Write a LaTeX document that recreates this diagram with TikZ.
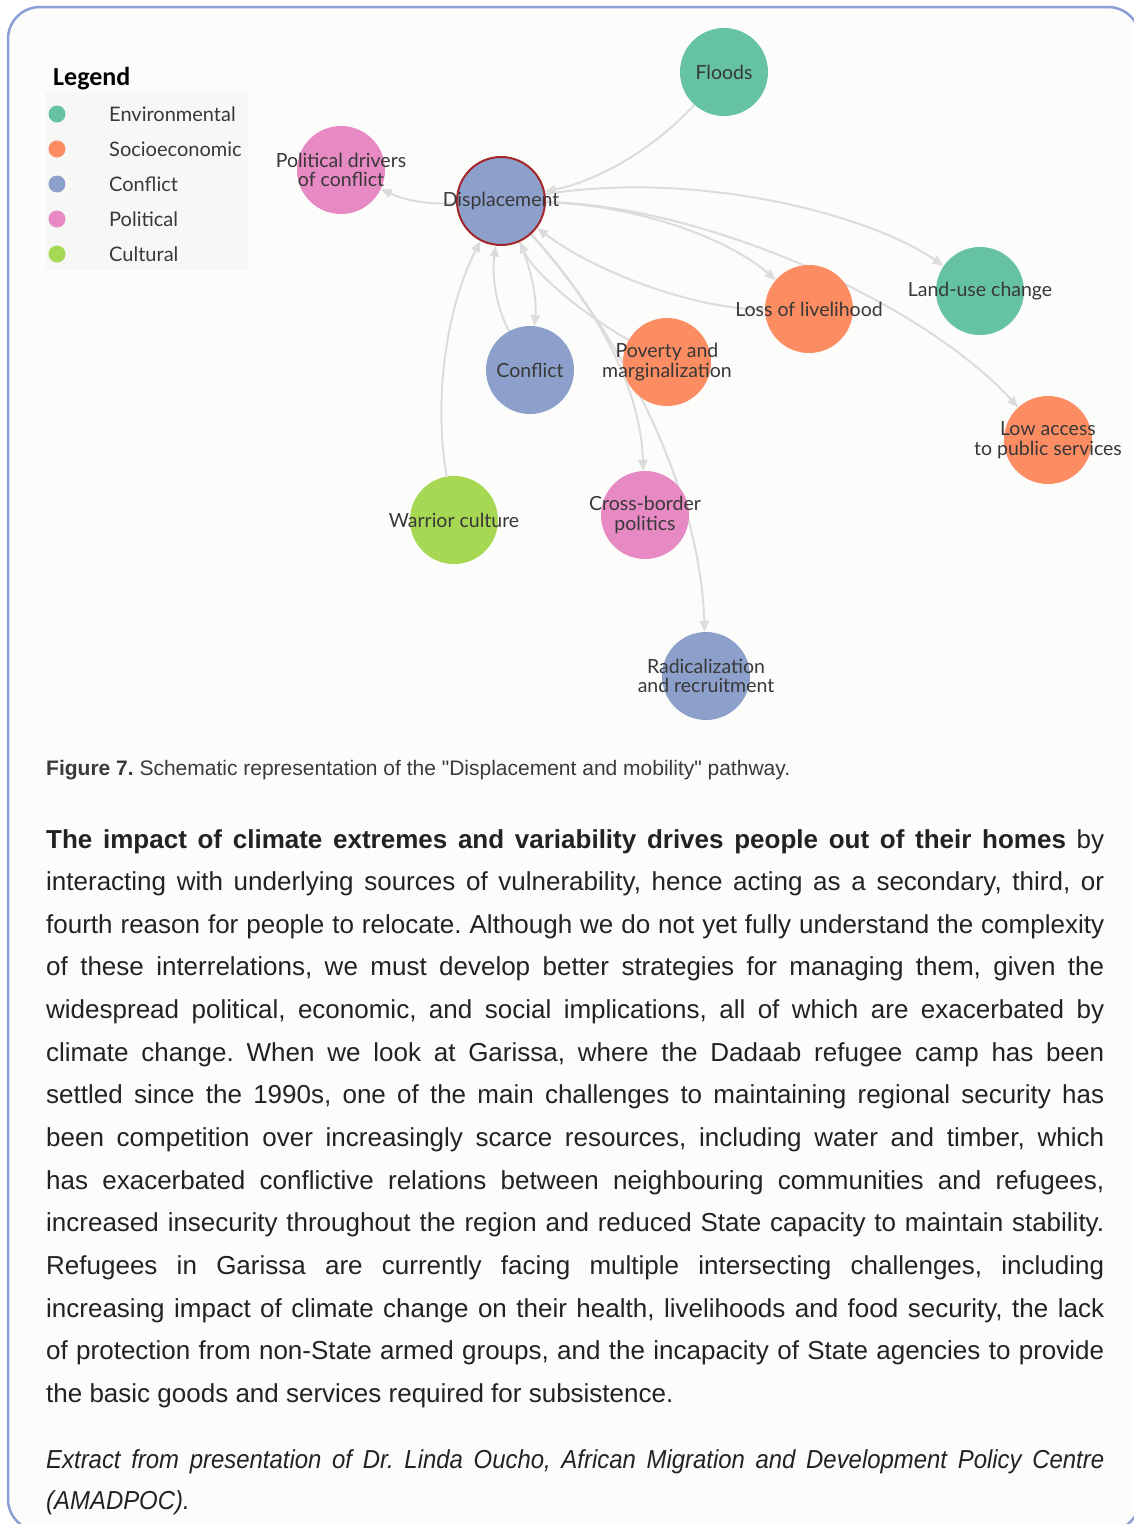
\documentclass[tikz,border=0pt]{standalone}
\usepackage{fontspec}
\setmainfont{Liberation Sans}
\newfontfamily\extfont{Liberation Sans}[FakeStretch=0.92]
\newfontfamily\nodefont{Lato}
\newfontfamily\legfont{Carlito}
\usetikzlibrary{arrows.meta}
\definecolor{pagebg}{HTML}{FCFCFB}
\definecolor{framec}{HTML}{8C9ED4}
\definecolor{envc}{HTML}{66C2A5}
\definecolor{socc}{HTML}{FC8D62}
\definecolor{conc}{HTML}{8DA0CB}
\definecolor{polc}{HTML}{E78AC3}
\definecolor{culc}{HTML}{A6D854}
\definecolor{edgec}{HTML}{DCDCDC}
\definecolor{txtc}{HTML}{383838}
\definecolor{bodyc}{HTML}{222222}
\definecolor{capc}{HTML}{3A3A3A}
\definecolor{dispb}{HTML}{A3262A}
\definecolor{legbg}{HTML}{F7F7F6}
\pgfdeclarelayer{back}
\pgfdeclarelayer{edges}
\pgfsetlayers{back,edges,main}
\newcommand\jl[1]{\hbox to 1058pt{#1}}
\frenchspacing
\begin{document}
\frenchspacing
\begin{tikzpicture}[x=1pt,y=-1pt,
  circ/.style={circle, minimum size=88pt, inner sep=0pt},
  lbl/.style={font=\nodefont\fontsize{19.5}{19.5}\selectfont, text=txtc, align=center, inner sep=0pt},
  link/.style={draw=edgec, line width=2pt, -{Triangle[length=11pt,width=9pt,fill=edgec]}},
  ldot/.style={circle, minimum size=17pt, inner sep=0pt},
  ltxt/.style={anchor=base west, font=\nodefont\fontsize{20}{24}\selectfont, text=txtc, inner sep=0pt}]
\useasboundingbox (0,0) rectangle (1134,1524);
\begin{pgfonlayer}{back}
\fill[white] (0,0) rectangle (1134,1524);
\draw[framec, line width=2.5pt, fill=pagebg, rounded corners=32pt] (8,7) rectangle (1140,1531);
\fill[legbg] (45,92) rectangle (248,270);
\end{pgfonlayer}

% legend
\node[anchor=base west, inner sep=0pt, font=\legfont\bfseries\fontsize{26}{30}\selectfont, text=black] (legt) at (53,85) {Legend};
\node[ldot, fill=envc] (d1) at (57,114) {};
\node[ltxt] (t1) at (109,121) {Environmental};
\node[ldot, fill=socc] (d2) at (57,149) {};
\node[ltxt] (t2) at (109,156) {Socioeconomic};
\node[ldot, fill=conc] (d3) at (57,184) {};
\node[ltxt] (t3) at (109,191) {Conflict};
\node[ldot, fill=polc] (d4) at (57,219) {};
\node[ltxt] (t4) at (109,226) {Political};
\node[ldot, fill=culc] (d5) at (57,254) {};
\node[ltxt] (t5) at (109,261) {Cultural};

% graph nodes
\node[circ, fill=envc, label={[lbl]center:Floods}] (floods) at (724,72) {};
\node[circ, fill=conc, draw=dispb, line width=2pt, label={[lbl]center:Displacement}] (disp) at (501,201) {};
\node[circ, fill=polc, label={[lbl]center:{Political drivers\\of conflict}}] (poldr) at (341,170) {};
\node[circ, fill=socc, label={[lbl]center:Loss of livelihood}] (loss) at (809,309) {};
\node[circ, fill=envc, label={[lbl]center:Land-use change}] (land) at (980,291) {};
\node[circ, fill=conc, label={[lbl]center:Conflict}] (confl) at (530,370) {};
\node[circ, fill=socc, label={[lbl]center:{Poverty and\\marginalization}}] (pov) at (667,362) {};
\node[circ, fill=socc, label={[lbl]center:{Low access\\to public services}}] (low) at (1048,440) {};
\node[circ, fill=culc, label={[lbl]center:Warrior culture}] (war) at (454,520) {};
\node[circ, fill=polc, label={[lbl]center:{Cross-border\\politics}}] (cross) at (645,515) {};
\node[circ, fill=conc, label={[lbl]center:{Radicalization\\and recruitment}}] (rad) at (706,676) {};

\begin{pgfonlayer}{edges}
\draw[link] (floods) .. controls (655,148) and (600,180) .. (disp);
\draw[link] (disp) .. controls (700,170) and (870,215) .. (land);
\draw[link] (disp) .. controls (640,205) and (730,240) .. (loss);
\draw[link] (disp) .. controls (700,205) and (920,300) .. (low);
\draw[link] (loss) .. controls (700,310) and (600,275) .. (disp);
\draw[link] (pov) .. controls (585,315) and (535,275) .. (disp);
\draw[link] (disp) .. controls (532,270) and (537,300) .. (confl);
\draw[link] (confl) .. controls (495,305) and (492,275) .. (disp);
\draw[link] (war) .. controls (432,390) and (450,300) .. (disp);
\draw[link] (disp) .. controls (420,205) and (400,198) .. (poldr);
\draw[link] (disp) .. controls (590,300) and (640,380) .. (cross);
\draw[link] (disp) .. controls (610,320) and (700,480) .. (rad);
\end{pgfonlayer}

% caption
\node[anchor=base west, inner sep=0pt, font=\fontsize{21}{25}\selectfont, text=capc] (cap) at (46,775)
  {\textbf{Figure 7.} Schematic representation of the \textquotedbl Displacement and mobility\textquotedbl{} pathway.};

% body
\node[anchor=base west, inner sep=0pt, font=\fontsize{26}{42.65}\selectfont, text=bodyc] (body) at (46,848)
  {\vtop{\baselineskip=42.65pt
  \jl{\textbf{The impact of climate extremes and variability drives people out of their homes} by}
  \jl{interacting with underlying sources of vulnerability, hence acting as a secondary, third, or}
  \jl{fourth reason for people to relocate. Although we do not yet fully understand the complexity}
  \jl{of these interrelations, we must develop better strategies for managing them, given the}
  \jl{widespread political, economic, and social implications, all of which are exacerbated by}
  \jl{climate change. When we look at Garissa, where the Dadaab refugee camp has been}
  \jl{settled since the 1990s, one of the main challenges to maintaining regional security has}
  \jl{been competition over increasingly scarce resources, including water and timber, which}
  \jl{has exacerbated conflictive relations between neighbouring communities and refugees,}
  \jl{increased insecurity throughout the region and reduced State capacity to maintain stability.}
  \jl{Refugees in Garissa are currently facing multiple intersecting challenges, including}
  \jl{increasing impact of climate change on their health, livelihoods and food security, the lack}
  \jl{of protection from non-State armed groups, and the incapacity of State agencies to provide}
  \hbox{the basic goods and services required for subsistence.}}};

% extract
\node[anchor=base west, inner sep=0pt, font=\extfont\itshape\fontsize{26}{41}\selectfont, text=bodyc] (extract) at (46,1468)
  {\vtop{\baselineskip=41pt
  \jl{Extract from presentation of Dr. Linda Oucho, African Migration and Development Policy Centre}
  \hbox{(AMADPOC).}}};
\end{tikzpicture}
\end{document}
